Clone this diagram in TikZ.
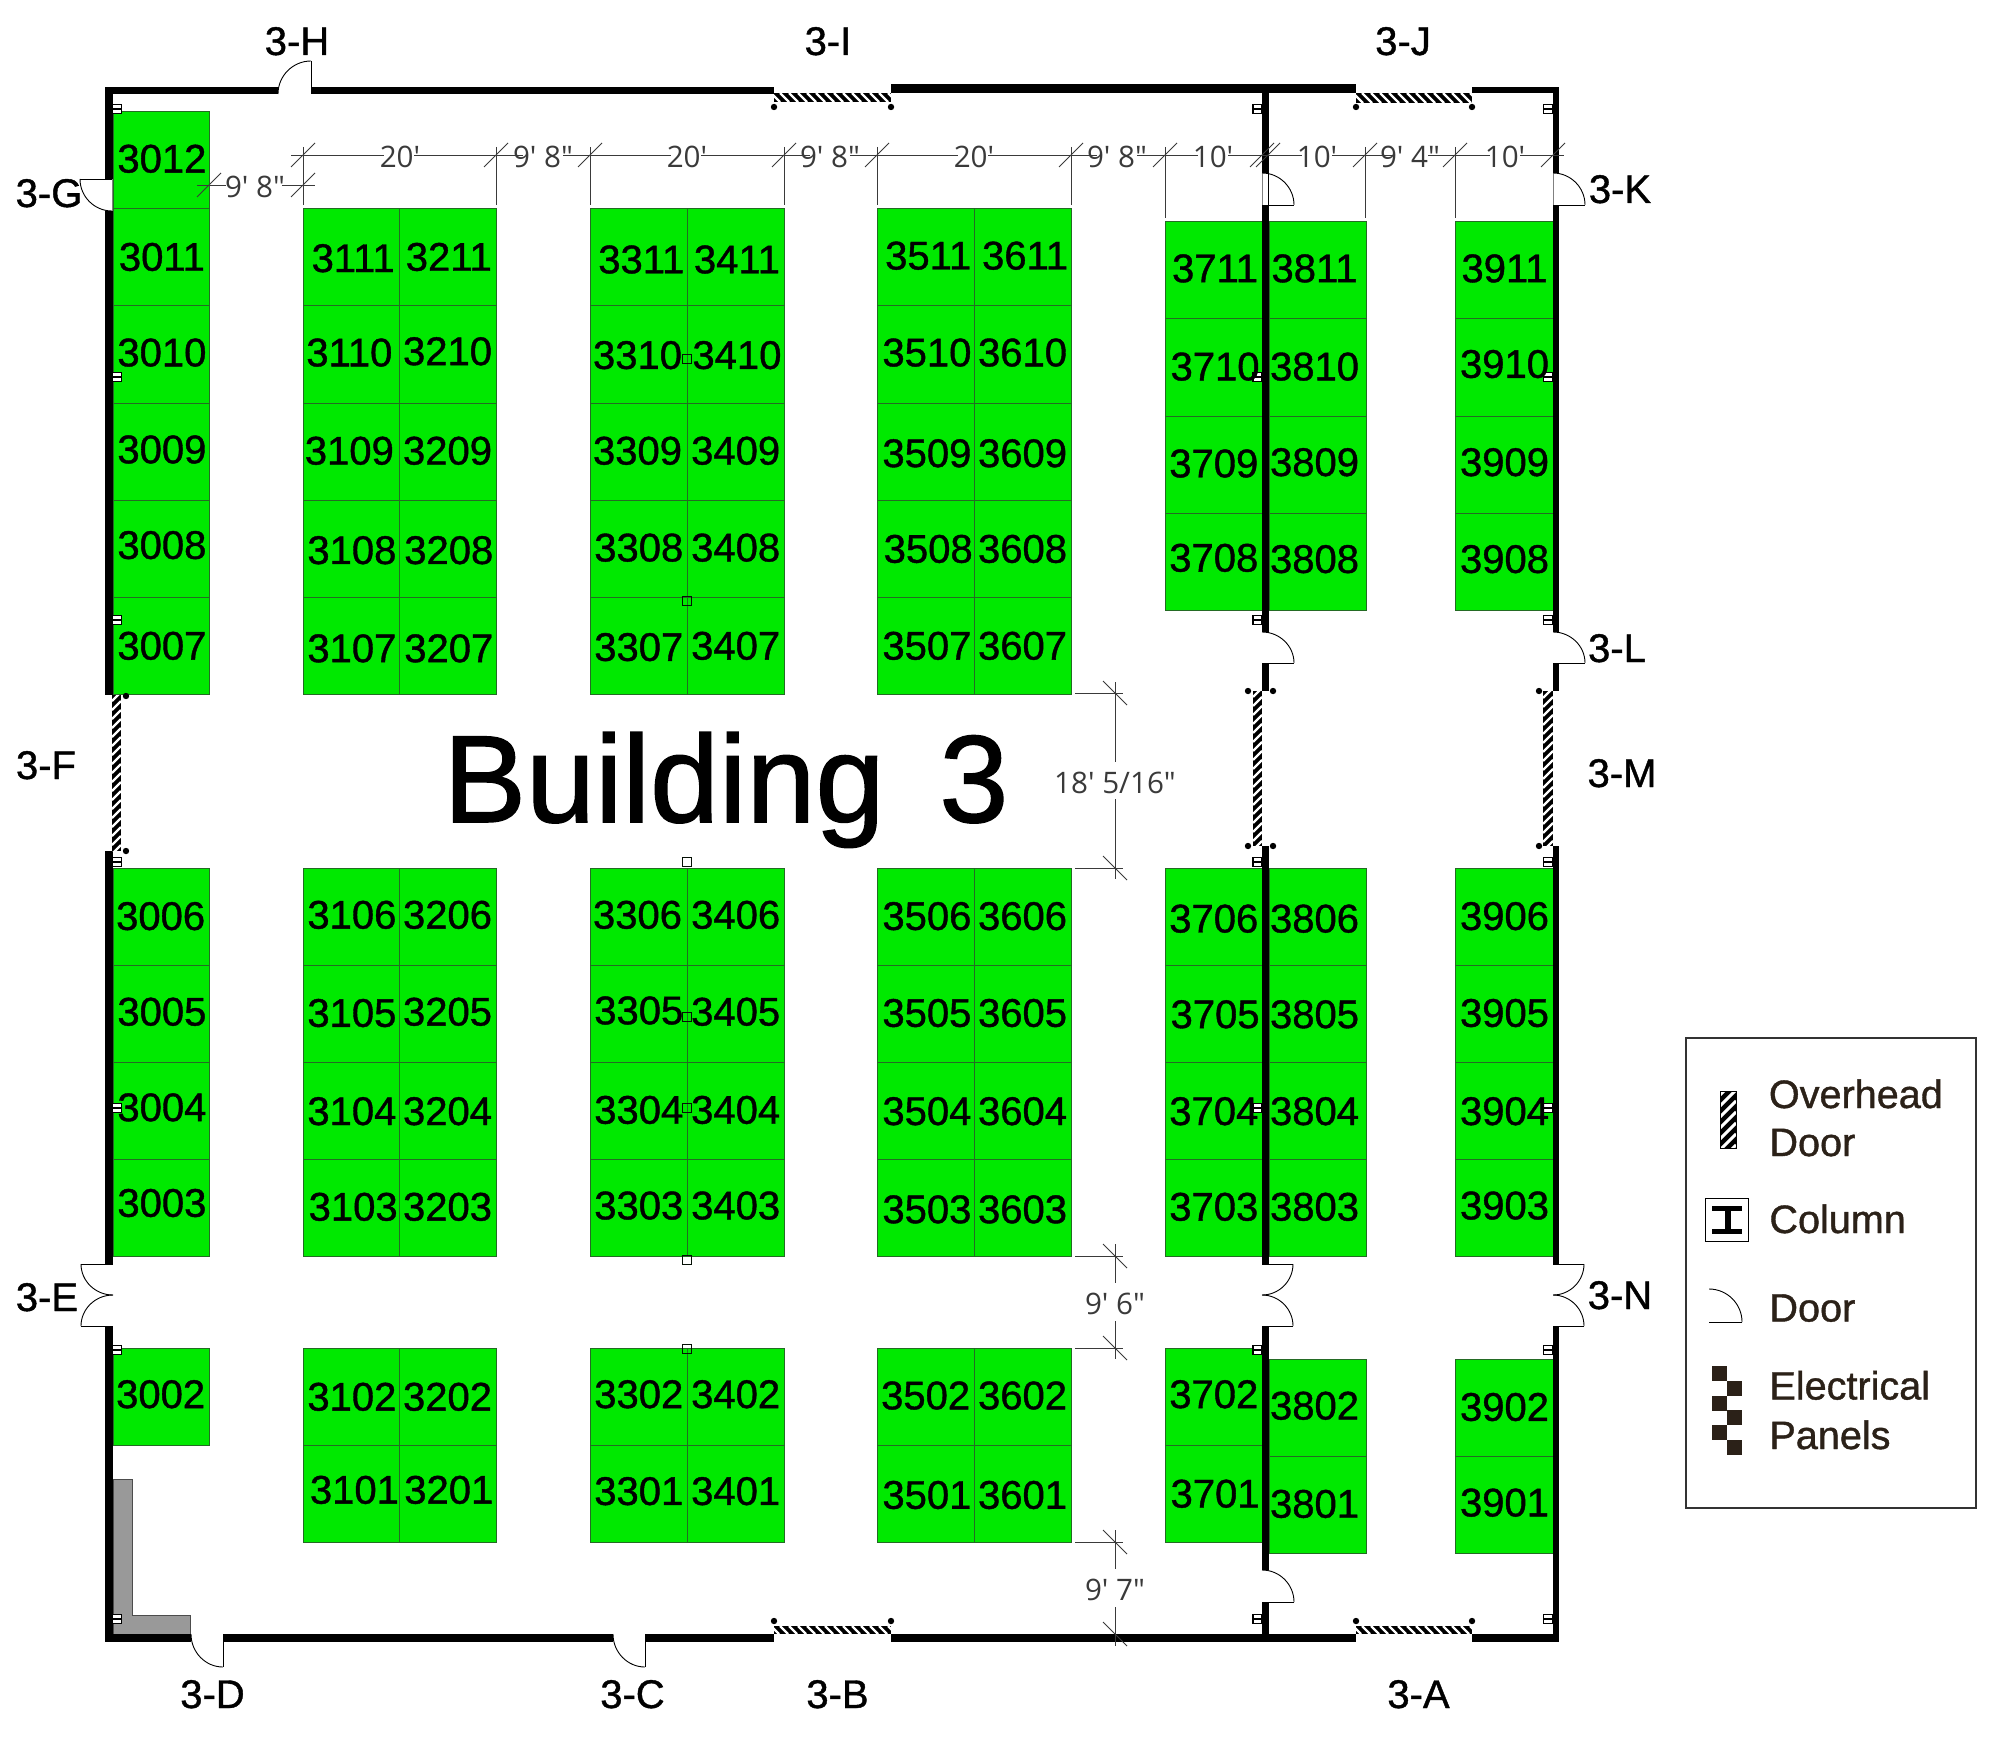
\documentclass[tikz,border=0pt]{standalone}
\usepackage{fontspec}
\setmainfont{Liberation Sans}
\newfontfamily\heavyfont[FakeBold=1.0]{Liberation Sans}
\newfontfamily\titlefont[FakeBold=1.2]{Liberation Sans}
\newfontfamily\dimfont{Open Sans}
\usetikzlibrary{calc}
\definecolor{boothgreen}{HTML}{00E900}
\definecolor{boothline}{HTML}{246B24}
\definecolor{dimcol}{HTML}{3A3A3A}
\definecolor{legtext}{HTML}{2B2118}
\definecolor{panelgray}{HTML}{999999}
\tikzset{
  boothbox/.style={fill=boothgreen,draw=boothline,line width=.5pt},
  boothtext/.style={inner sep=0pt,text=black,font=\heavyfont\fontsize{20}{24}\selectfont},
  gatetext/.style={inner sep=0pt,anchor=base,text=black,font=\heavyfont\fontsize{20}{24}\selectfont},
  legendtext/.style={inner sep=0pt,anchor=base west,text=legtext,font=\heavyfont\fontsize{19.8}{24}\selectfont},
  dimtext/.style={inner sep=0pt,anchor=base,text=dimcol,font=\dimfont\fontsize{14.8}{18}\selectfont},
  dimline/.style={draw=dimcol,line width=.45pt},
  doorline/.style={draw=black,line width=.45pt},
  doorjamb/.style={draw=gray,line width=.5pt},
  dotmark/.style={fill=black}
}
\newcommand\wl[4]{\fill[black] (#1,#2) rectangle (#3,#4);}
\newcommand\qarc[3]{\draw[doorline] #1 .. controls ($#1!0.55!#2$) and ($#3!0.55!#2$) .. #3;}
\newcommand\hatchH[4]{\fill[black] (#1,#2) rectangle (#3,#4);
  \begin{scope}\clip (#1,#2) rectangle (#3,#4);
  \foreach \pp in {-12,-3,...,125}{\draw[white,line width=1.2pt] ({#1+\pp},#2) -- ({#1+\pp+(#4-#2)},#4);}
  \end{scope}}
\newcommand\hatchV[6]{\fill[black] (#1,#2) rectangle (#3,#4);
  \begin{scope}\clip (#1,#2) rectangle (#3,#4);
  \foreach \pp in {-12,#5,...,165}{\draw[white,line width=#6] (#1,{#2+\pp+(#3-#1)}) -- (#3,{#2+\pp});}
  \end{scope}}
\newcommand\colbox[2]{\draw[fill=white,draw=black,line width=.7pt] ({#1-4.5},{#2-4.5}) rectangle ({#1+4.5},{#2+4.5});
  \draw[black,line width=.9pt] ({#1-4.5},#2) -- ({#1+4.5},#2);}
\newcommand\colhollow[2]{\draw[draw=black!85!boothline,line width=.7pt] ({#1-4.5},{#2-4.5}) rectangle ({#1+4.5},{#2+4.5});}
\newcommand\ticks[2]{\draw[dimline] ({#1-12},{#2+12}) -- ({#1+12},{#2-12});}
\newcommand\backticks[2]{\draw[dimline] ({#1-12},{#2-12}) -- ({#1+12},{#2+12});}
\begin{document}
\begin{tikzpicture}[x=.5pt,y=-.5pt]
\useasboundingbox (0,0) rectangle (2000,1738);
% ---------- booths
\foreach \xa/\xb in {113/209,303/399,399/496,590/687,687/784,877/974,974/1071}{
  \foreach \ya/\yb in {209/306,306/403,403/500,500/597,597/694,868/965,965/1062,1062/1159,1159/1256}{
    \draw[boothbox] (\xa,\ya) rectangle (\xb,\yb);}}
\draw[boothbox] (113,112) rectangle (209,209);
\draw[boothbox] (113,1348) rectangle (209,1445);
\foreach \xa/\xb in {303/399,399/496,590/687,687/784,877/974,974/1071,1165/1262}{
  \foreach \ya/\yb in {1348/1445,1445/1542}{
    \draw[boothbox] (\xa,\ya) rectangle (\xb,\yb);}}
\foreach \xa/\xb in {1165/1262,1269/1366,1455/1553}{
  \foreach \ya/\yb in {222/319,319/416,416/513,513/610,868/965,965/1062,1062/1159,1159/1256}{
    \draw[boothbox] (\xa,\ya) rectangle (\xb,\yb);}}
\foreach \xa/\xb in {1269/1366,1455/1553}{
  \foreach \ya/\yb in {1359/1456,1456/1553}{
    \draw[boothbox] (\xa,\ya) rectangle (\xb,\yb);}}
% ---------- electrical panels
\draw[fill=panelgray,draw=black!70,line width=.4pt] (113,1479) -- (132,1479) -- (132,1615) -- (190,1615) -- (190,1634) -- (113,1634) -- cycle;
% ---------- walls
\wl{105}{87}{278}{94}\wl{311}{87}{774}{94}\wl{891}{84}{1356}{93.5}\wl{1472}{87}{1559}{93.5}
\wl{105}{87}{113}{179}\wl{105}{211}{113}{695}\wl{105}{851}{113}{1264}\wl{105}{1326}{113}{1642}
\wl{105}{1634}{191}{1642}\wl{223}{1634}{613}{1642}\wl{645}{1634}{774}{1642}\wl{891}{1634}{1356}{1642}\wl{1472}{1634}{1559}{1642}
\wl{1262}{84}{1269}{173}\wl{1262}{205}{1269}{632}\wl{1262}{663}{1269}{691}\wl{1262}{846}{1269}{1264}\wl{1262}{1326}{1269}{1570}\wl{1262}{1602}{1269}{1642}
\wl{1553}{87}{1559}{173}\wl{1553}{205}{1559}{632}\wl{1553}{663}{1559}{691}\wl{1553}{846}{1559}{1264}\wl{1553}{1326}{1559}{1642}
% ---------- overhead doors
\hatchH{774}{93}{891}{102}\hatchH{1356}{93}{1472}{103}\hatchH{774}{1626}{891}{1634}\hatchH{1356}{1626}{1472}{1634}
\hatchV{112}{695}{121}{851}{-3}{1.2pt}\hatchV{1253}{691}{1262}{846}{-3}{1.2pt}\hatchV{1543}{691}{1553}{846}{-3}{1.2pt}
\foreach \dx/\dy in {774/107,891/107,1356/107,1472/107,774/1621,891/1621,1356/1621,1472/1621,126/696,126/851,1248/691,1273/691,1248/846,1273/846,1539/691,1539/846}{
  \fill[dotmark] (\dx,\dy) circle[radius=1.6pt];}
% ---------- columns
\foreach \cy in {109,377,620,862,1108,1350,1619}{
  \colbox{117}{\cy}\colbox{1257.5}{\cy}\colbox{1548}{\cy}}
\foreach \cy in {359,601,862,1017,1108,1260,1349}{\colhollow{687}{\cy}}
% ---------- doors
\draw[doorjamb] (1553,173) -- (1553,205);
\draw[doorjamb] (1262,173) -- (1262,205);
\draw[doorline] (1268.5,147) -- (1268.5,205);
\draw[doorjamb] (112.5,179) -- (112.5,211);
\draw[doorline] (1553,205) -- (1585,205);\qarc{(1553,173)}{(1585,173)}{(1585,205)}
\draw[doorline] (1262,205) -- (1294,205);\qarc{(1262,173)}{(1294,173)}{(1294,205)}
\draw[doorline] (80,179) -- (112,179);\qarc{(80,179)}{(80,211)}{(112,211)}
\draw[doorline] (311,61) -- (311,94);\qarc{(311,61)}{(278,61)}{(278,94)}
\draw[doorline] (223,1634) -- (223,1667);\qarc{(191,1634)}{(191,1667)}{(223,1667)}
\draw[doorline] (645,1634) -- (645,1667);\qarc{(613,1634)}{(613,1667)}{(645,1667)}
\draw[doorline] (81,1264) -- (113,1264);\draw[doorline] (81,1326) -- (113,1326);
\qarc{(81,1264)}{(81,1295)}{(113,1295)}\qarc{(81,1326)}{(81,1295)}{(113,1295)}
\draw[doorline] (1262,1264) -- (1293,1264);\draw[doorline] (1262,1326) -- (1293,1326);
\qarc{(1293,1264)}{(1293,1295)}{(1262,1295)}\qarc{(1293,1326)}{(1293,1295)}{(1262,1295)}
\draw[doorline] (1553,1264) -- (1584,1264);\draw[doorline] (1553,1326) -- (1584,1326);
\qarc{(1584,1264)}{(1584,1295)}{(1553,1295)}\qarc{(1584,1326)}{(1584,1295)}{(1553,1295)}
\draw[doorline] (1262,663) -- (1294,663);\qarc{(1262,632)}{(1294,632)}{(1294,663)}
\draw[doorline] (1553,663) -- (1585,663);\qarc{(1553,632)}{(1585,632)}{(1585,663)}
\draw[doorline] (1262,1602) -- (1294,1602);\qarc{(1262,1570)}{(1294,1570)}{(1294,1602)}
% ---------- dimensions: top run
\foreach \xa/\xb in {291/384,414/523,563/671,701/810,850/958,988/1097,1137/1198,1228/1302,1332/1393,1428/1490,1520/1564}{
  \draw[dimline] (\xa,155) -- (\xb,155);}
\foreach \tx in {303,496,590,784,877,1071,1165,1262,1268,1365,1455,1553}{\ticks{\tx}{155}}
\foreach \ex in {303,496,590,784,877,1071}{\draw[dimline] (\ex,147) -- (\ex,205);}
\foreach \ex in {1165,1365,1455}{\draw[dimline] (\ex,147) -- (\ex,218);}
\draw[dimline] (197,185) -- (226,185);\draw[dimline] (282,185) -- (315,185);
\ticks{209}{185}\ticks{303}{185}
\node[dimtext] (d01) at (400,168) {20'};
\node[dimtext] (d02) at (543,168) {9' 8"};
\node[dimtext] (d03) at (687,168) {20'};
\node[dimtext] (d04) at (830,168) {9' 8"};
\node[dimtext] (d05) at (974,168) {20'};
\node[dimtext] (d06) at (1117,168) {9' 8"};
\node[dimtext] (d07) at (1213,168) {10'};
\node[dimtext] (d08) at (1317,168) {10'};
\node[dimtext] (d09) at (1410,168) {9' 4"};
\node[dimtext] (d10) at (1505,168) {10'};
\node[dimtext] (d11) at (255,198) {9' 8"};
% ---------- dimensions: right run
\draw[dimline] (1075,693) -- (1123,693);\draw[dimline] (1075,868) -- (1123,868);
\draw[dimline] (1075,1256) -- (1123,1256);\draw[dimline] (1075,1348) -- (1123,1348);
\draw[dimline] (1075,1542) -- (1123,1542);
\draw[dimline] (1115,682) -- (1115,762);\draw[dimline] (1115,799) -- (1115,879);
\draw[dimline] (1115,1244) -- (1115,1283);\draw[dimline] (1115,1321) -- (1115,1359);
\draw[dimline] (1115,1530) -- (1115,1569);\draw[dimline] (1115,1607) -- (1115,1646);
\backticks{1115}{693}\backticks{1115}{868}\backticks{1115}{1256}\backticks{1115}{1348}\backticks{1115}{1542}\backticks{1115}{1634}
\node[dimtext] (d12) at (1115,793) {18' 5/16"};
\node[dimtext] (d13) at (1115,1314) {9' 6"};
\node[dimtext] (d14) at (1115,1600) {9' 7"};
% ---------- gate labels
\node[gatetext] (g3H) at (297,55) {3-H};
\node[gatetext] (g3I) at (828,55) {3-I};
\node[gatetext] (g3J) at (1403,55) {3-J};
\node[gatetext] (g3K) at (1620,203) {3-K};
\node[gatetext] (g3L) at (1617,662) {3-L};
\node[gatetext] (g3M) at (1622,787) {3-M};
\node[gatetext] (g3N) at (1620,1309) {3-N};
\node[gatetext] (g3E) at (47,1311) {3-E};
\node[gatetext] (g3F) at (46,779) {3-F};
\node[gatetext] (g3G) at (49,207) {3-G};
\node[gatetext] (g3D) at (212.5,1708) {3-D};
\node[gatetext] (g3C) at (632.5,1708) {3-C};
\node[gatetext] (g3B) at (837.5,1708) {3-B};
\node[gatetext] (g3A) at (1418.5,1708) {3-A};
\node[inner sep=0pt,anchor=base west,text=black,font=\titlefont\fontsize{62}{70}\selectfont] (title) at (443,822) {Building\hspace{27.5pt}3};
% ---------- booth labels
\foreach \id/\bx/\by in {
3012/127/124,3011/127/201,3010/127/276,3009/127/352,3008/127/427,3007/127/506,3006/126/718,3005/127/793,3004/127/868,3003/127/943,3002/126/1093,
3111/277/202,3110/274/276,3109/274/353,3108/276/431,3107/276/508,3106/276/717,3105/276/794,3104/276/871,3103/277/946,3102/276/1095,3101/278/1168,
3211/352/201,3210/351/275,3209/351/353,3208/352/431,3207/352/508,3206/351/717,3205/351/793,3204/351/871,3203/351/946,3202/351/1095,3201/352/1168,
3311/503/203,3310/500/278,3309/500/353,3308/501/429,3307/501/507,3306/500/717,3305/501/792,3304/501/870,3303/501/945,3302/501/1093,3301/501/1169,
3411/578/203,3410/578/278,3409/577/353,3408/577/429,3407/577/506,3406/577/717,3405/577/793,3404/577/870,3403/577/945,3402/577/1093,3401/577/1169,
3511/728/200,3510/727/276,3509/727/355,3508/728/430,3507/727/506,3506/727/718,3505/727/794,3504/727/871,3503/727/948,3502/726/1094,3501/727/1172,
3611/804/200,3610/802/276,3609/802/355,3608/802/430,3607/802/506,3606/802/718,3605/802/794,3604/802/871,3603/802/948,3602/802/1094,3601/802/1172,
3711/953/210,3710/953/287,3709/952/363,3708/952/437,3706/952/720,3705/953/795,3704/952/871,3703/952/946,3702/952/1093,3701/953/1171,
3811/1031/210,3810/1031/287,3809/1031/362,3808/1031/438,3806/1031/720,3805/1031/795,3804/1031/871,3803/1031/946,3802/1031/1102,3801/1031/1179,
3911/1180/210,3910/1180/285,3909/1180/362,3908/1180/438,3906/1180/718,3905/1180/794,3904/1180/871,3903/1180/945,3902/1180/1103,3901/1180/1178}{
  \node[boothtext] (b\id) at ({\bx*1.275},{\by*1.275+.7}) {\id};}
% ---------- legend
\draw[draw=black!80,line width=.6pt] (1686,1038) rectangle (1976,1508);
\hatchV{1720}{1091}{1736}{1148}{-1}{1.5pt}
\draw[line width=.5pt] (1720,1091) rectangle (1736,1148);
\node[legendtext] (l1a) at (1768.5,1108) {Overhead};
\node[legendtext] (l1b) at (1769,1156) {Door};
\draw[draw=black,line width=.5pt] (1705,1198) rectangle (1748,1241);
\fill[black] (1712,1206) rectangle (1742,1210.5);
\fill[black] (1712,1229) rectangle (1742,1234);
\fill[black] (1725,1206) rectangle (1731,1234);
\node[legendtext] (l2) at (1769,1233) {Column};
\draw[doorline] (1709,1322) -- (1742,1322);\qarc{(1709,1289)}{(1742,1289)}{(1742,1322)}
\node[legendtext] (l3) at (1769,1321.5) {Door};
\foreach \ex/\ey in {1712/1366,1727/1381,1712/1396,1727/1410,1712/1425,1727/1440}{
  \fill[legtext] (\ex,\ey) rectangle ({\ex+15},{\ey+15});}
\node[legendtext] (l4a) at (1769,1399.5) {Electrical};
\node[legendtext] (l4b) at (1769,1449) {Panels};
\end{tikzpicture}
\end{document}
